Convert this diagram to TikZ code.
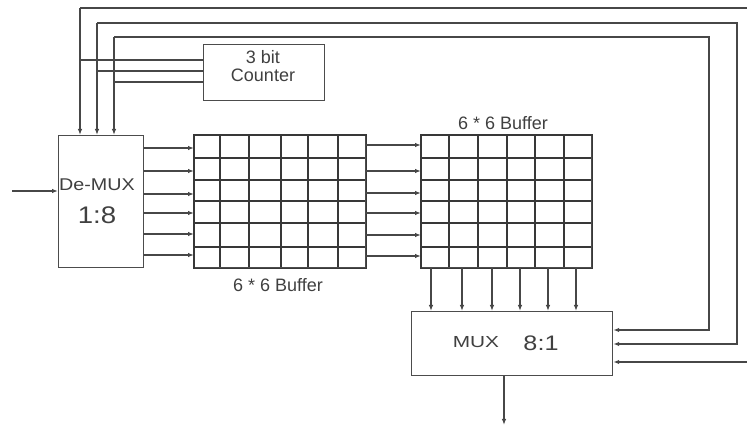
\documentclass[tikz,border=0pt]{standalone}
\usepackage{fontspec}
\setmainfont{Liberation Sans}
\usetikzlibrary{arrows.meta}
\begin{document}
\begin{tikzpicture}[x=1pt,y=-1pt,
  wire/.style={draw=black!72, line width=1.2pt},
  arr/.style={wire, -{Latex[length=6pt,width=4.5pt]}},
  blk/.style={draw=black!70, line width=1.2pt, fill=white, inner sep=0pt, anchor=north west},
  gridln/.style={draw=black!78, line width=1.2pt},
  lbl/.style={text=black!75, inner sep=0pt}
]
\useasboundingbox (0,0) rectangle (747,427);

% blocks
\node[blk, minimum width=121pt, minimum height=56pt] (counter) at (203,44) {};
\node[lbl, align=center, font=\fontsize{18}{18}\selectfont] (countertxt) at (263,66) {3 bit\\Counter};

\node[blk, minimum width=85pt, minimum height=132pt] (demux) at (58,135) {};
\node[lbl, font=\fontsize{17}{19}\selectfont] (demuxtxt) at (97,185) {\scalebox{1.16}[1]{De-MUX}};
\node[lbl, font=\fontsize{24}{26}\selectfont] (demuxratio) at (97,215) {\scalebox{1.15}[1]{1:8}};

\node[blk, minimum width=171pt, minimum height=132pt] (bufa) at (194,135) {};
\node[blk, minimum width=170pt, minimum height=132pt] (bufb) at (421,135) {};
\node[lbl, font=\fontsize{18}{20}\selectfont] (bufalbl) at (278,285) {6 * 6 Buffer};
\node[lbl, font=\fontsize{18}{20}\selectfont] (bufblbl) at (503,123) {6 * 6 Buffer};

\node[blk, minimum width=201pt, minimum height=64pt] (mux) at (411,311) {};
\node[lbl, font=\fontsize{16}{18}\selectfont] (muxtxt) at (476,342) {\scalebox{1.3}[1]{MUX}};
\node[lbl, font=\fontsize{21}{23}\selectfont] (muxratio) at (541,343) {\scalebox{1.2}[1]{8:1}};

% grids
\foreach \x in {220,249,281,308,338} \draw[gridln] (\x,135) -- (\x,267);
\foreach \x in {449,478,507,535,564} \draw[gridln] (\x,135) -- (\x,267);
\foreach \y in {158,180,201,223,247} {
  \draw[gridln] (194,\y) -- (365,\y);
  \draw[gridln] (421,\y) -- (591,\y);
}
\draw[gridln] (bufa.north west) rectangle (bufa.south east);
\draw[gridln] (bufb.north west) rectangle (bufb.south east);

% input / output
\coordinate (in) at (12,191);
\draw[arr] (in) -- (demux.west |- in);
\coordinate (out) at (504,425);
\draw[arr] (mux.south -| out) -- (out);

% demux -> buffer A
\foreach \y in {148,171,194,213,234,255}
  \draw[arr] (demux.east |- 0,\y) -- (bufa.west |- 0,\y);
% buffer A -> buffer B
\foreach \y in {145,171,193,213,235,256}
  \draw[arr] (bufa.east |- 0,\y) -- (bufb.west |- 0,\y);
% buffer B -> mux
\foreach \x in {431,462,492,520,548,576}
  \draw[arr] (bufb.south -| \x,0) -- (mux.north -| \x,0);

% counter select lines
\draw[wire] (counter.west |- 0,60) -- (80,60);
\draw[wire] (counter.west |- 0,71) -- (97,71);
\draw[wire] (counter.west |- 0,82) -- (114,82);

% to demux
\draw[arr] (80,8) -- (demux.north -| 80,0);
\draw[arr] (97,23) -- (demux.north -| 97,0);
\draw[arr] (114,37) -- (demux.north -| 114,0);

% feedback to mux
\draw[arr] (80,8) -- (760,8) -- (760,362) -- (mux.east |- 0,362);
\draw[arr] (97,23) -- (737,23) -- (737,344) -- (mux.east |- 0,344);
\draw[arr] (114,37) -- (709,37) -- (709,330) -- (mux.east |- 0,330);
\end{tikzpicture}
\end{document}
